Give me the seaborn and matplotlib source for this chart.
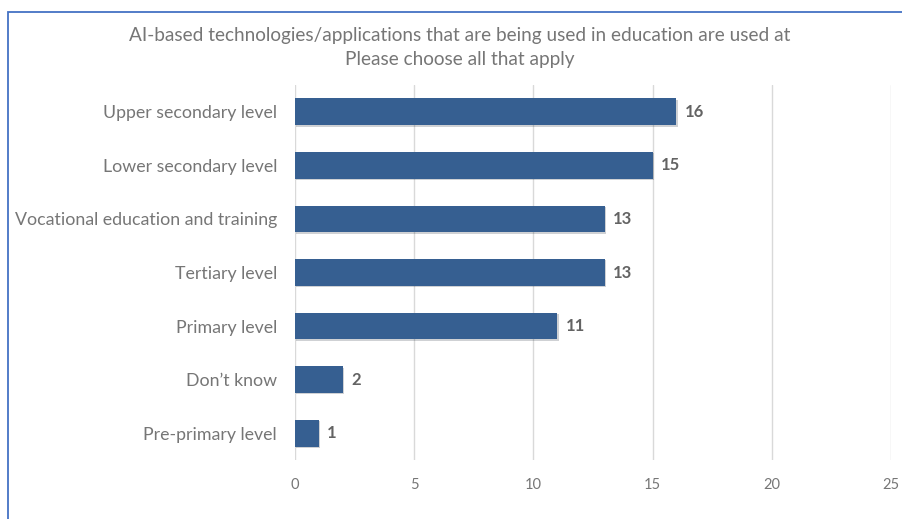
import matplotlib
matplotlib.use("Agg")
import matplotlib.pyplot as plt
import matplotlib.patheffects as pe
from matplotlib.patches import Rectangle
import seaborn as sns
import pandas as pd

categories = [
    "Upper secondary level",
    "Lower secondary level",
    "Vocational education and training",
    "Tertiary level",
    "Primary level",
    "Don\u2019t know",
    "Pre-primary level",
]
counts = [16, 15, 13, 13, 11, 2, 1]
x_ticks = [0, 5, 10, 15, 20, 25]
title_lines = [
    "AI-based technologies/applications that are being used in education are used at",
    "Please choose all that apply",
]

df = pd.DataFrame({"level": categories, "count": counts})

sns.set_theme(style="white")
plt.rcParams["font.family"] = ["Lato", "DejaVu Sans"]

W, H = 903, 519
fig = plt.figure(figsize=(W / 100, H / 100), dpi=100)
ax = fig.add_axes([295 / W, 1 - 460 / H, (891 - 295) / W, (460 - 85) / H])

bar_color = "#365F91"
text_gray = "#767676"
value_gray = "#636363"

sns.barplot(data=df, x="count", y="level", order=categories, color=bar_color,
            width=0.5, saturation=1, linewidth=0, ax=ax, zorder=3)
for p in ax.patches:
    p.set_edgecolor("none")
    p.set_path_effects([pe.SimplePatchShadow(offset=(1.0, -1.0), alpha=0.2), pe.Normal()])

ax.set_xlim(0, 25)
ax.set_ylim(6.5, -0.5)
ax.set_xticks(x_ticks)
ax.set_xticklabels([str(t) for t in x_ticks])
ax.xaxis.grid(True, color="#D9D9D9", linewidth=1)
ax.yaxis.grid(False)
for s in ax.spines.values():
    s.set_visible(False)
ax.tick_params(axis="x", length=0, pad=13, labelsize=10.5, labelcolor=text_gray)
ax.tick_params(axis="y", length=0, pad=13, labelsize=12.8, labelcolor=text_gray)
ax.set_xlabel("")
ax.set_ylabel("")

for i, v in enumerate(counts):
    ax.annotate(str(v), xy=(v, i), xytext=(6, 0), textcoords="offset points",
                va="center", ha="left", fontsize=12, fontweight="bold", color=value_gray)

fig.text(460 / W, 1 - 35 / H, title_lines[0], ha="center", va="center",
         fontsize=13.7, color=text_gray)
fig.text(460 / W, 1 - 59 / H, title_lines[1], ha="center", va="center",
         fontsize=13.7, color=text_gray)

# outer frame: open on the right and bottom edges
fig.patches.append(Rectangle((8 / W, -0.05), 1.2, 1 - 12 / H + 0.05,
                             transform=fig.transFigure, fill=False,
                             edgecolor="#4472C4", linewidth=1.3))

fig.savefig("out.png", dpi=100)
